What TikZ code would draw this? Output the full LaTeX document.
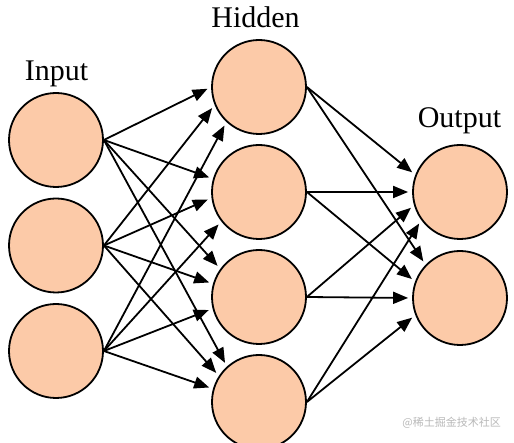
\documentclass[tikz,border=0pt]{standalone}
\usepackage{fontspec}
\setmainfont{Liberation Serif}
\newfontfamily\cjk{Noto Sans CJK SC}
\usetikzlibrary{arrows.meta}
\definecolor{peach}{RGB}{252,202,168}
\definecolor{wmark}{RGB}{185,185,185}
\begin{document}
\begin{tikzpicture}[x=1pt,y=-1pt,
  neuron/.style={circle,draw=black,fill=peach,line width=1.8pt,minimum size=94pt,inner sep=0pt},
  layerlabel/.style={anchor=base,inner sep=0pt,font=\fontsize{30}{36}\selectfont},
  arr/.style={line width=1.8pt,-{Triangle[length=15pt,width=12pt]},shorten >=4pt}]
\useasboundingbox (0,0) rectangle (514,443);
\fill[white] (0,0) rectangle (514,443);
% nodes
\node[neuron] (I1) at (56,140) {};
\node[neuron] (I2) at (56,245.5) {};
\node[neuron] (I3) at (56,351) {};
\node[neuron] (H1) at (259,87) {};
\node[neuron] (H2) at (259,192) {};
\node[neuron] (H3) at (259,297) {};
\node[neuron] (H4) at (259,402) {};
\node[neuron] (O1) at (460,192) {};
\node[neuron] (O2) at (460,298) {};
% labels
\node[layerlabel] (tIn) at (56.5,81) {Input};
\node[layerlabel] (tHid) at (255.5,28) {Hidden};
\node[layerlabel] (tOut) at (459.5,128) {Output};
% connectors input -> hidden
\foreach \s/\t/\a in {I1/H1/180,I2/H1/202,I3/H1/227,
                      I1/H2/164,I2/H2/187,I3/H2/218,
                      I1/H3/144,I2/H3/164,I3/H3/194,
                      I1/H4/132,I2/H4/147,I3/H4/164}
  \draw[arr] (\s.east) -- (\t.\a);
% connectors hidden -> output
\foreach \s/\t/\a in {H1/O1/159,H2/O1/180,H3/O1/196,H4/O1/216,
                      H1/O2/136,H2/O2/160,H3/O2/180,H4/O2/201}
  \draw[arr] (\s.east) -- (\t.\a);
% watermark
\node[anchor=east,inner sep=0pt,text=wmark,font=\cjk\fontsize{11}{13}\selectfont] (wm) at (501,423) {@稀土掘金技术社区};
\end{tikzpicture}
\end{document}
